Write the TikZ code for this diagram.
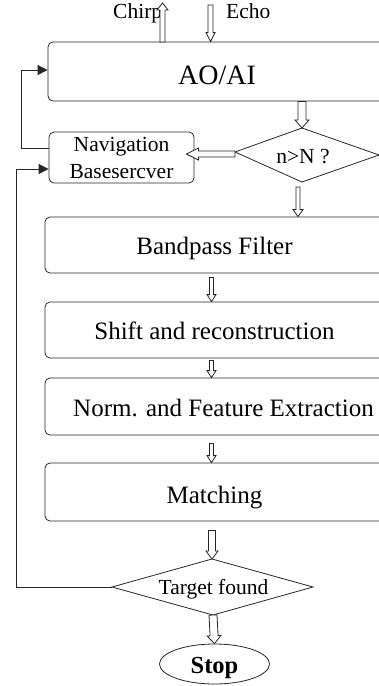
\documentclass[tikz,border=0pt]{standalone}
\usepackage{fontspec}
\setmainfont{Liberation Serif}
\usetikzlibrary{calc,arrows.meta,shapes.geometric}

\tikzset{
  stroke/.style={draw=black!85, line width=0.8pt},
  box/.style={stroke, rounded corners=5pt, inner sep=0pt,
    font=\fontsize{25}{30}\selectfont, text height=18pt, text depth=0pt},
  smalltxt/.style={font=\fontsize{21.5}{27}\selectfont, inner sep=0pt},
  bigtxt/.style={font=\fontsize{25}{30}\selectfont, inner sep=0pt},
  hollow/.style={stroke, fill=white, line join=miter},
  feedback/.style={stroke, -{Triangle[length=10pt,width=10pt]}},
}

% hollow block arrow: from, to, half shaft width, half head width, head length
\newcommand\hollowarrow[5]{%
  \coordinate (ha-neck) at ($(#2)!#5!(#1)$);
  \filldraw[hollow]
    ($(#1)!#3!90:(#2)$) -- ($(ha-neck)!#3!90:(#2)$) --
    ($(ha-neck)!#4!90:(#2)$) -- (#2) --
    ($(ha-neck)!#4!-90:(#2)$) -- ($(ha-neck)!#3!-90:(#2)$) --
    ($(#1)!#3!-90:(#2)$) -- cycle;}

\begin{document}
\begin{tikzpicture}[x=1pt, y=-1pt]
\useasboundingbox (0,0) rectangle (379,686);

% process boxes (they run past the right edge)
\node[box, minimum width=338pt, minimum height=59pt,
      font=\fontsize{28}{32}\selectfont, text height=26.5pt]
      (ao) at (217,71.5) {AO/AI};
\node[box, minimum width=145pt, minimum height=51pt, align=center,
      text height=, text depth=,
      font=\fontsize{21.5}{27}\selectfont] (nav) at (121.5,157.5)
      {Navigation\\Basesercver};
\node[box, minimum width=339pt, minimum height=56pt] (bp) at (214.5,245) {Bandpass Filter};
\node[box, minimum width=339pt, minimum height=56pt] (sh) at (214.5,330) {Shift and reconstruction};
\node[box, minimum width=339pt, minimum height=57pt] (nf) at (214.5,406.5) {};
\node[bigtxt] (nftxt) at (223.5,408) {Norm. and Feature Extraction};
\node[box, minimum width=339pt, minimum height=58pt, text height=22.5pt] (ma) at (214.5,492) {Matching};

% decisions
\draw[stroke] (302,128) coordinate (d1n) -- (379,155) coordinate (d1e)
  -- (302,182) coordinate (d1s) -- (235,152) coordinate (d1w) -- cycle;
\node[smalltxt] (d1) at (303,157) {n>N ?};
\draw[stroke] (212,559) coordinate (d2n) -- (313,587) coordinate (d2e)
  -- (213,615) coordinate (d2s) -- (112,587) coordinate (d2w) -- cycle;
\node[smalltxt] (d2) at (213.5,589) {Target found};

% terminal
\node[stroke, ellipse, minimum width=110pt, minimum height=40pt, inner sep=0pt,
      text height=18pt, text depth=0pt,
      font=\fontsize{24.5}{28}\selectfont\bfseries] (stop) at (214.5,664) {Stop};

% signal labels
\node[smalltxt, anchor=base west] (chirp) at (113,18) {Chirp};
\node[smalltxt, anchor=base west] (echo) at (226,18) {Echo};

% feedback lines
\draw[feedback] ([yshift=9.5pt]nav.west) -- ++(-27,0) |- ([yshift=1.5pt]ao.west);
\draw[feedback] (d2w) -- (16,587) |- ([yshift=-11.5pt]nav.west);

% hollow arrow end points
\coordinate (c1) at (162.5,42);
\coordinate (c2) at (162.5,3);
\coordinate (e1) at (210.5,5);
\coordinate (e2) at (ao.north -| e1);
\coordinate (a1) at (ao.south -| d1n);
\coordinate (n1) at ([yshift=-2pt]d1w);
\coordinate (n2) at ($(nav.east |- n1)+(-8,0)$);
\coordinate (b1) at ($(d1s)+(-4,5)$);
\coordinate (b2) at (bp.north -| b1);
\coordinate (s1) at ($(bp.south)+(-3,4)$);
\coordinate (s2) at (sh.north -| s1);
\coordinate (f1) at ($(sh.south)+(-3,2)$);
\coordinate (f2) at (nf.north -| f1);
\coordinate (m1) at ($(nf.south)+(-3,8)$);
\coordinate (m2) at (ma.north -| m1);
\coordinate (t1) at ($(ma.south -| d2n)+(0,9)$);

% hollow arrows
\hollowarrow{c1}{c2}{2.5pt}{5.5pt}{7pt}
\hollowarrow{e1}{e2}{2.5pt}{4.5pt}{9pt}
\hollowarrow{a1}{d1n}{4pt}{7pt}{8pt}
\hollowarrow{n1}{n2}{3pt}{6pt}{12pt}
\hollowarrow{b1}{b2}{2pt}{5pt}{7pt}
\hollowarrow{s1}{s2}{2pt}{4.5pt}{7pt}
\hollowarrow{f1}{f2}{2pt}{4.5pt}{7pt}
\hollowarrow{m1}{m2}{2pt}{4.5pt}{7pt}
\hollowarrow{t1}{d2n}{3.5pt}{6pt}{8pt}
\hollowarrow{d2s}{stop.north}{4pt}{7pt}{8pt}
\end{tikzpicture}
\end{document}
